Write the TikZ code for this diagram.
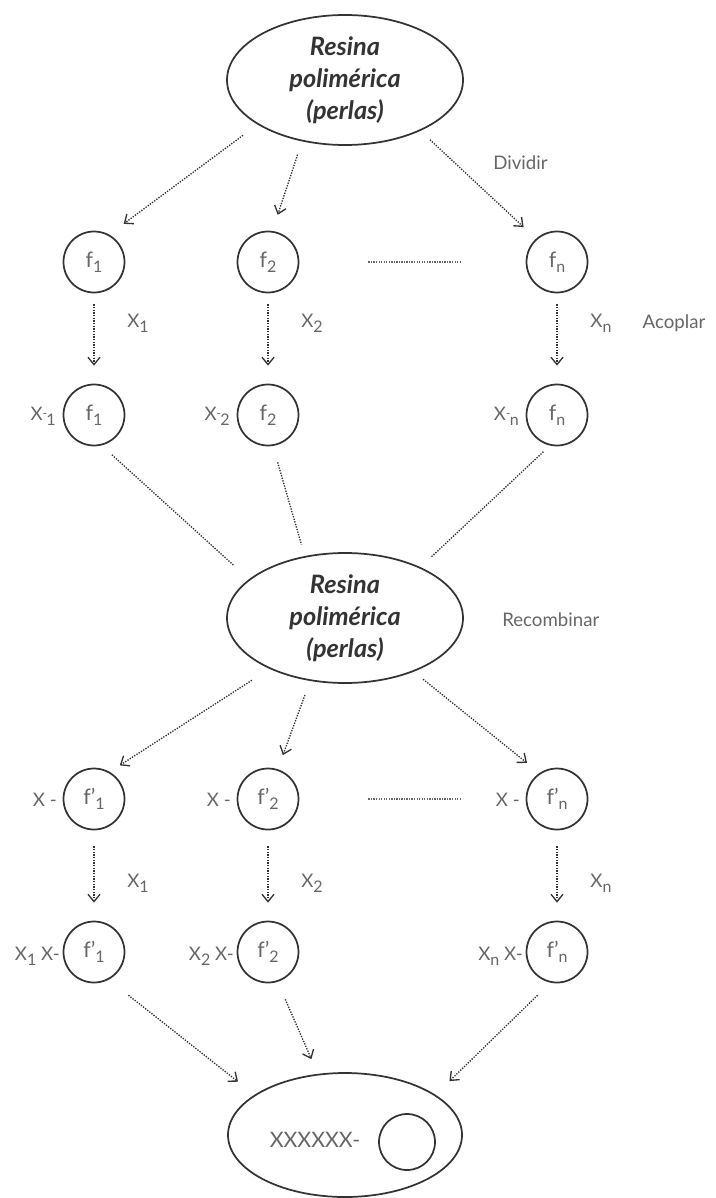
\documentclass[tikz,border=0pt]{standalone}
\usepackage{fontspec}
\setmainfont{Lato}
\usetikzlibrary{arrows.meta,shapes.geometric}
\definecolor{inkgray}{HTML}{333333}
\definecolor{txtgray}{HTML}{666666}
\newcommand{\lowsub}[1]{\raisebox{-0.5ex}{\fontsize{12}{12}\selectfont #1}}
\tikzset{
	resin/.style={draw=inkgray, ellipse, line width=1.3pt, minimum width=177pt, minimum height=97.5pt, inner sep=0pt},
	resintext/.style={align=center, text=inkgray, font=\fontsize{19}{24}\selectfont\bfseries\itshape},
	bead/.style={draw=inkgray, circle, line width=1.3pt, minimum size=45.75pt, inner sep=0pt, text=txtgray, font=\fontsize{16}{18}\selectfont},
	lbl/.style={text=txtgray, font=\fontsize{14}{16}\selectfont, inner sep=0pt},
	darr/.style={densely dotted, line width=1pt, draw=inkgray, -{Straight Barb[length=5.5pt,width=9pt,line width=1pt]}},
	dline/.style={densely dotted, line width=1pt, draw=inkgray},
	dots/.style={dash pattern=on 1pt off 0.9pt, line width=1.6pt, draw=txtgray}
}
\begin{document}
\begin{tikzpicture}[x=0.75pt,y=-0.75pt]
	\useasboundingbox (0,0) rectangle (716,1198);
	
	% resina de partida
	\node[resin, label={[resintext]center:Resina\\polimérica\\(perlas)}] (top) at (345,80) {};
	\node[lbl, anchor=west] (dividir) at (493,163) {Dividir};
	
	% las cuatro filas de perlas
	\foreach \x/\i in {94/1,268/2,557/n} {
		\node[bead] (f\i) at (\x,262) {f\lowsub{\i}};
		\node[bead] (g\i) at (\x,415) {f\lowsub{\i}};
		\node[bead] (h\i) at (\x,799) {f'\lowsub{\i}};
		\node[bead] (k\i) at (\x,952) {f'\lowsub{\i}};
		\draw[darr, shorten <=8.25pt, shorten >=13.5pt] (f\i) -- (g\i);
		\draw[darr, shorten <=12pt, shorten >=13.5pt] (h\i) -- (k\i);
		\node[lbl] (xa\i) at (\x+44,323) {X\lowsub{\i}};
		\node[lbl] (xb\i) at (\x+44,883) {X\lowsub{\i}};
		\node[lbl, anchor=east] (xg\i) at (\x-38,416) {X\raisebox{0.3ex}{\small -}\kern-0.5pt\lowsub{\i}};
		\node[lbl, anchor=east] (xh\i) at (\x-37,800) {X -};
		\node[lbl, anchor=east] (xk\i) at (\x-34,956) {X\lowsub{\i} X-};
	}
	\node[lbl] (acoplar) at (674,323) {Acoplar};
	
	% puntos entre columnas
	\draw[dots, shorten <=51.75pt, shorten >=48pt] (f2) -- (fn);
	\draw[dots, shorten <=51.75pt, shorten >=48pt] (h2) -- (hn);
	
	% dividir
	\draw[darr, shorten <=13.5pt, shorten >=13.5pt] (top.207) -- (f1.61);
	\draw[darr, shorten <=10.5pt, shorten >=12.75pt] (top.235) -- (f2.82);
	\draw[darr, shorten <=9.75pt, shorten >=12.75pt] (top.326) -- (fn.132);
	
	% recombinar
	\node[resin, label={[resintext]center:Resina\\polimérica\\(perlas)}] (mid) at (345,618) {};
	\node[lbl, anchor=west] (recomb) at (502,620) {Recombinar};
	\draw[dline, shorten <=10.5pt, shorten >=15.75pt] (g1.284) -- (mid.158);
	\draw[dline, shorten <=12.75pt, shorten >=9pt] (g2.279) -- (mid.123);
	\draw[dline, shorten <=6.75pt, shorten >=10.5pt] (gn.257) -- (mid.34);
	
	\draw[darr, shorten <=15.75pt, shorten >=9pt] (mid.214) -- (h1.60);
	\draw[darr, shorten <=11.25pt, shorten >=11.25pt] (mid.241) -- (h2.72);
	\draw[darr, shorten <=9pt, shorten >=12pt] (mid.322) -- (hn.124);
	
	% producto final
	\node[resin, minimum width=175.5pt, minimum height=93pt] (bot) at (345,1135) {};
	\node[lbl, font=\fontsize{16}{18}\selectfont] (xtext) at (315,1140) {XXXXXX-};
	\node[bead, minimum size=42pt] (hole) at (407,1142) {};
	\draw[darr, shorten <=18.75pt, shorten >=15.75pt] (k1.298) -- (bot.156);
	\draw[darr, shorten <=14.25pt, shorten >=12pt] (k2.288) -- (bot.114);
	\draw[darr, shorten <=13.5pt, shorten >=14.6pt] (kn.258) -- (bot.24);
	
\end{tikzpicture}
\end{document}
